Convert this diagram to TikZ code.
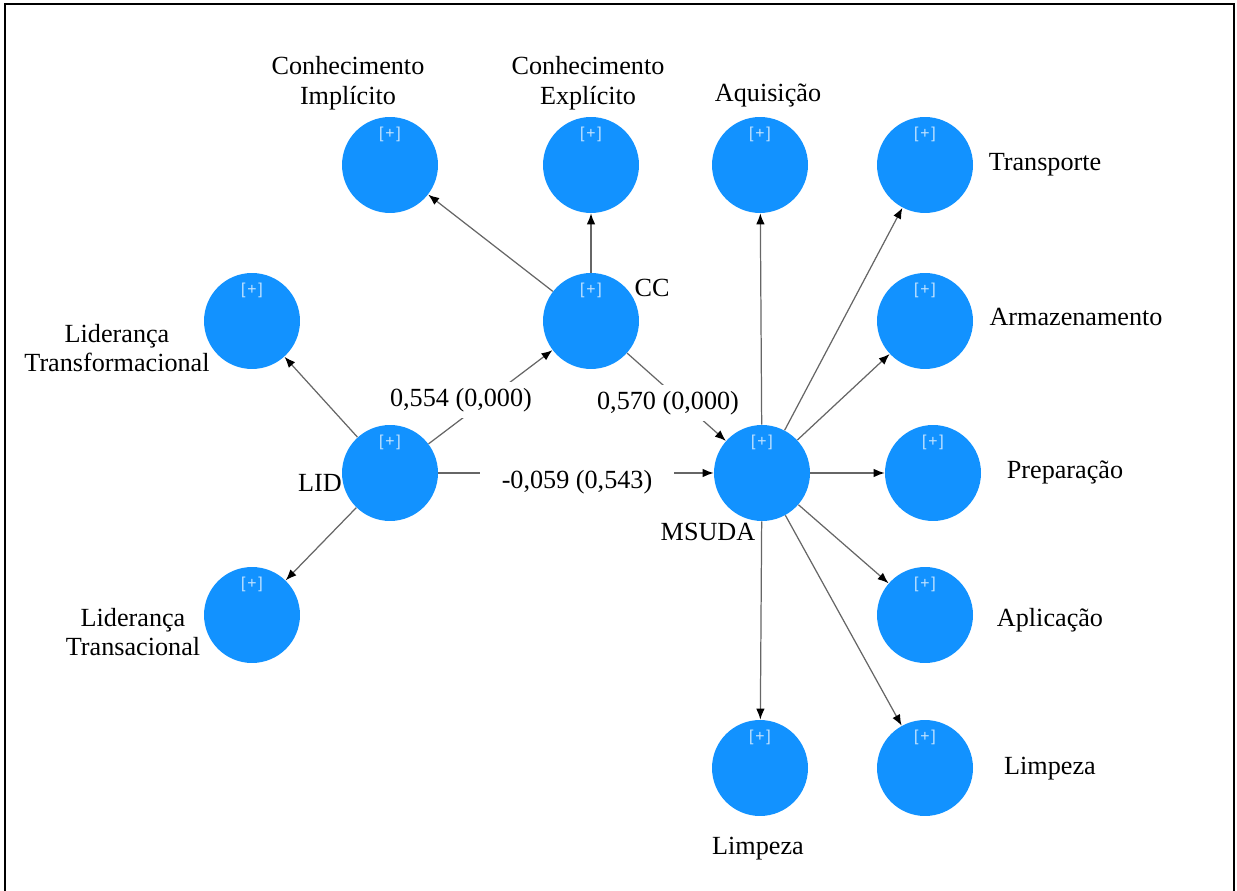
\documentclass[tikz,border=0pt]{standalone}
\usepackage{fontspec}
\setmainfont{Liberation Serif}
\newfontfamily\plusfont{Liberation Sans}
\usetikzlibrary{arrows.meta}
\definecolor{pls_blue}{RGB}{18,146,255}
\newcommand{\plusmark}{\raisebox{0.54cm}[0pt][0pt]{[\kern1pt+\kern1pt]}}

\begin{document}
\begin{tikzpicture}[
    x=0.02cm, y=-0.02cm,
    construct/.style={circle, fill=pls_blue, minimum size=1.92cm, inner sep=0pt, text=white!75!pls_blue, font=\plusfont\fontsize{9}{10}\selectfont},
    path_arrow/.style={draw=black!60, line width=0.7pt, -{Latex[black, length=2.2mm, width=1.7mm]}},
    coef_label/.style={fill=white, inner sep=0.12cm, font=\fontsize{14.9}{17}\selectfont},
    name_label/.style={align=center, font=\fontsize{14.9}{17}\selectfont},
    frame_line/.style={line width=1.2pt}
]

\useasboundingbox (0,0) rectangle (1237,891);

% Frame
\draw[frame_line] (5,891) -- (5,4) -- (1234,4) -- (1234,891);

% Constructs
\node[construct] (conh_impl) at (390,165) {\plusmark};
\node[construct] (conh_expl) at (591,165) {\plusmark};
\node[construct] (aquis) at (760,165) {\plusmark};
\node[construct] (transp) at (925,165) {\plusmark};
\node[construct] (lid_transf) at (252,321) {\plusmark};
\node[construct] (cc) at (591,321) {\plusmark};
\node[construct] (armaz) at (925,321) {\plusmark};
\node[construct] (lid) at (390,473) {\plusmark};
\node[construct] (msuda) at (762,473) {\plusmark};
\node[construct] (prep) at (933,473) {\plusmark};
\node[construct] (lid_trans) at (252,615) {\plusmark};
\node[construct] (aplic) at (925,615) {\plusmark};
\node[construct] (limp_a) at (760,768) {\plusmark};
\node[construct] (limp_b) at (925,768) {\plusmark};

% Construct names
\node[name_label] (conh_impl_txt) at (348,83) {Conhecimento\\Implícito};
\node[name_label] (conh_expl_txt) at (588,83) {Conhecimento\\Explícito};
\node[name_label] (aquis_txt) at (768,95) {Aquisição};
\node[name_label] (transp_txt) at (1045,165) {Transporte};
\node[name_label] (armaz_txt) at (1076,317) {Armazenamento};
\node[name_label] (prep_txt) at (1065,472) {Preparação};
\node[name_label] (aplic_txt) at (1050,620) {Aplicação};
\node[name_label] (limp_b_txt) at (1050,769) {Limpeza};
\node[name_label] (limp_a_txt) at (758,849) {Limpeza};
\node[name_label] (msuda_txt) at (708,532) {MSUDA};
\node[name_label] (lid_txt) at (320,483) {LID};
\node[name_label] (cc_txt) at (652,288) {CC};
\node[name_label] (lid_transf_txt) at (117,348) {Liderança\\Transformacional};
\node[name_label] (lid_trans_txt) at (133,632) {Liderança\\Transacional};

% Paths
\draw[path_arrow] (cc) -- (conh_impl);
\draw[path_arrow] (cc) -- (conh_expl);
\draw[path_arrow] (lid) -- (lid_transf);
\draw[path_arrow] (lid) -- (lid_trans);
\draw[path_arrow] (lid) -- (cc);
\draw[path_arrow] (cc) -- (msuda);
\draw[path_arrow] (lid) -- (msuda);
\foreach \ind in {aquis, transp, armaz, prep, aplic, limp_a, limp_b}
    \draw[path_arrow] (msuda) -- (\ind);

% Path coefficients (p-values)
\node[coef_label] (coef_lid_cc) at (461,400) {0,554 (0,000)};
\node[coef_label] (coef_cc_msuda) at (668,403) {0,570 (0,000)};
\node[coef_label, inner xsep=0.44cm] (coef_lid_msuda) at (577,482) {-0,059 (0,543)};

\end{tikzpicture}
\end{document}
